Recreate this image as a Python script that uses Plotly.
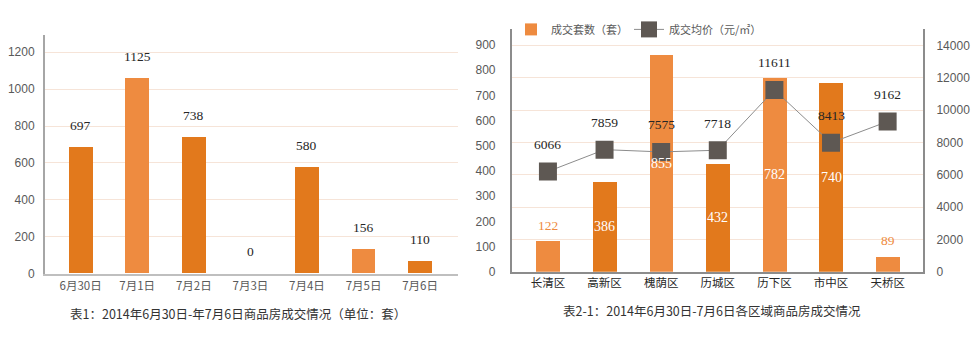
import plotly.graph_objects as go

# ---------- data: left chart ----------
days = ["6月30日", "7月1日", "7月2日", "7月3日", "7月4日", "7月5日", "7月6日"]
day_bar_values = [685, 1060, 738, 0, 575, 134, 67]
day_label_values = [697, 1125, 738, 0, 580, 156, 110]
day_tick_values = [0, 200, 400, 600, 800, 1000, 1200]

# ---------- data: right chart ----------
districts = ["长清区", "高新区", "槐荫区", "历城区", "历下区", "市中区", "天桥区"]
units_bar_values = [122, 358, 862, 431, 771, 752, 60]
units_label_values = [122, 386, 855, 432, 782, 740, 89]
price_point_values = [6200, 7552, 7412, 7515, 11248, 7976, 9291]
price_label_values = [6066, 7859, 7575, 7718, 11611, 8413, 9162]

caption_left = "表1：2014年6月30日-年7月6日商品房成交情况（单位：套）"
caption_right = "表2-1：2014年6月30日-7月6日各区域商品房成交情况"
legend_units = "成交套数（套）"
legend_price = "成交均价（元/㎡）"

DARK = "#E2791C"
LIGHT = "#EE8B40"
GRID = "#F6E4D8"
TICK = "#595959"
SANS = "Liberation Sans"
CJK = "Noto Sans CJK SC"
SERIF = "Liberation Serif"

left_colors = [DARK, LIGHT, DARK, DARK, DARK, LIGHT, DARK]
right_colors = [LIGHT, DARK, LIGHT, DARK, LIGHT, DARK, LIGHT]

fig = go.Figure()

fig.add_trace(go.Bar(
    x=days, y=day_bar_values, marker=dict(color=left_colors, line=dict(width=0)),
    width=0.42, xaxis="x", yaxis="y", showlegend=False, hoverinfo="skip"))

fig.add_trace(go.Bar(
    x=districts, y=units_bar_values, name=legend_units,
    marker=dict(color=right_colors, line=dict(width=0)),
    width=0.42, xaxis="x2", yaxis="y2", hoverinfo="skip", legend="legend"))

fig.add_trace(go.Scatter(
    x=districts, y=price_point_values, name=legend_price, mode="lines+markers",
    line=dict(color="#8C8C8C", width=1),
    marker=dict(symbol="square", size=18, color="#5E5853"),
    xaxis="x2", yaxis="y3", hoverinfo="skip", legend="legend2"))

annotations = []
for d, v, lab in zip(days, day_bar_values, day_label_values):
    annotations.append(dict(x=d, y=v, xref="x", yref="y", text=str(lab), showarrow=False,
                            yshift=22, font=dict(family=SERIF, size=13.5, color="#262626")))

for d, v, lab in zip(districts, units_bar_values, units_label_values):
    if v < 150:
        annotations.append(dict(x=d, y=v, xref="x2", yref="y2", text=str(lab), showarrow=False,
                                yshift=16, font=dict(family=SERIF, size=13.5, color=LIGHT)))
    else:
        annotations.append(dict(x=d, y=v / 2, xref="x2", yref="y2", text=str(lab), showarrow=False,
                                font=dict(family=SERIF, size=14, color="white")))

for d, v, lab in zip(districts, price_point_values, price_label_values):
    annotations.append(dict(x=d, y=v, xref="x2", yref="y3", text=str(lab), showarrow=False,
                            yshift=27, font=dict(family=SERIF, size=13.5, color="#262626")))

annotations.append(dict(x=238 / 978, y=(351 - 320) / 351, xref="paper", yref="paper",
                        text=caption_left, showarrow=False, xanchor="center", yanchor="middle",
                        font=dict(family=CJK, size=12.5, color="#333333")))
annotations.append(dict(x=712 / 978, y=(351 - 316.7) / 351, xref="paper", yref="paper",
                        text=caption_right, showarrow=False, xanchor="center", yanchor="middle",
                        font=dict(family=CJK, size=12.5, color="#333333")))

legend_common = dict(orientation="h", xanchor="left", y=(351 - 30) / 351, yanchor="middle",
                     font=dict(family=CJK, size=11, color=TICK), bgcolor="rgba(0,0,0,0)",
                     borderwidth=0)

fig.update_layout(
    width=978, height=351, autosize=False,
    margin=dict(l=0, r=0, t=0, b=0, pad=0),
    paper_bgcolor="white", plot_bgcolor="white",
    bargap=0,
    xaxis=dict(domain=[45 / 978, 458 / 978], anchor="y", type="category", range=[-0.63, 6.67],
               showline=True, linecolor="#BFBFBF", linewidth=2, ticks="", showgrid=False,
               tickfont=dict(family=CJK, size=11.5, color=TICK), fixedrange=True),
    yaxis=dict(domain=[(351 - 279.3) / 351, (351 - 36) / 351], anchor="x", range=[0, 1292],
               tickvals=day_tick_values, showline=True, linecolor="#A6A6A6", linewidth=2,
               gridcolor=GRID, gridwidth=1, zeroline=False, ticks="", ticklabelstandoff=6,
               tickfont=dict(family=SANS, size=12, color=TICK)),
    xaxis2=dict(domain=[511.7 / 978, 923.3 / 978], anchor="y2", type="category", range=[-0.64, 6.63],
                showline=True, linecolor="#8C8C8C", linewidth=1.5, ticks="", showgrid=False,
                tickfont=dict(family=CJK, size=11.5, color="#262626")),
    yaxis2=dict(domain=[(351 - 277.3) / 351, (351 - 29.3) / 351], anchor="x2", range=[0, 965],
                dtick=100, showgrid=False, showline=True, linecolor="#8C8C8C", linewidth=1.5,
                zeroline=False, ticks="", ticklabelstandoff=12, tickformat="d",
                tickfont=dict(family=SANS, size=12, color=TICK)),
    yaxis3=dict(overlaying="y2", side="right", anchor="x2", range=[0, 15030], dtick=2000,
                tick0=0, tickformat="d",
                showgrid=True, gridcolor=GRID, gridwidth=1, showline=True, linecolor="#8C8C8C",
                linewidth=1.5, zeroline=False, ticks="", ticklabelstandoff=9,
                tickfont=dict(family=SANS, size=12, color=TICK)),
    legend=dict(x=511 / 978, **legend_common),
    legend2=dict(x=629 / 978, **legend_common),
    annotations=annotations,
)

fig.write_html("out.html")
